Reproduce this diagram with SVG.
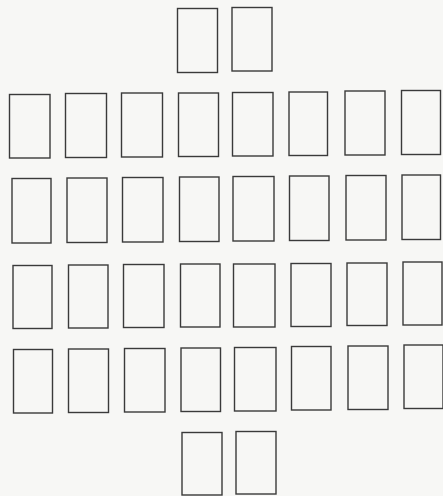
<svg xmlns="http://www.w3.org/2000/svg" width="443" height="496" viewBox="0 0 443 496">
<style>
.c{fill:none;stroke:#3a3a3a;stroke-width:1.4}
</style>
<rect width="443" height="496" fill="#f7f7f5"/>
<g id="top">
<g id="t1"><rect class="c" x="177.5" y="8.5" width="40" height="64"/></g>
<g id="t2"><rect class="c" x="232" y="7.5" width="40" height="63.5"/></g>
</g>
<g id="row1">
<g id="r1c1"><rect class="c" x="9.5" y="94.5" width="40.5" height="63.5"/></g>
<g id="r1c2"><rect class="c" x="65.5" y="93.5" width="41" height="64"/></g>
<g id="r1c3"><rect class="c" x="121.5" y="93" width="41" height="64"/></g>
<g id="r1c4"><rect class="c" x="178.5" y="93" width="40" height="63.5"/></g>
<g id="r1c5"><rect class="c" x="232.5" y="92.5" width="40.5" height="63.5"/></g>
<g id="r1c6"><rect class="c" x="289" y="92" width="38.5" height="63.5"/></g>
<g id="r1c7"><rect class="c" x="345" y="91" width="40" height="64"/></g>
<g id="r1c8"><rect class="c" x="401.5" y="90.5" width="39" height="64"/></g>
</g>
<g id="row2">
<g id="r2c1"><rect class="c" x="12" y="178.5" width="39" height="64.5"/></g>
<g id="r2c2"><rect class="c" x="67" y="178" width="40" height="64.5"/></g>
<g id="r2c3"><rect class="c" x="122.5" y="177.5" width="40.5" height="64.5"/></g>
<g id="r2c4"><rect class="c" x="179.5" y="177" width="39.5" height="64.5"/></g>
<g id="r2c5"><rect class="c" x="233" y="176.5" width="41" height="64.5"/></g>
<g id="r2c6"><rect class="c" x="289.5" y="176" width="39.5" height="64.5"/></g>
<g id="r2c7"><rect class="c" x="346" y="175.5" width="40" height="64.5"/></g>
<g id="r2c8"><rect class="c" x="402" y="175" width="38.5" height="64.5"/></g>
</g>
<g id="row3">
<g id="r3c1"><rect class="c" x="13" y="265.5" width="39" height="63"/></g>
<g id="r3c2"><rect class="c" x="68.5" y="265" width="39.5" height="63"/></g>
<g id="r3c3"><rect class="c" x="123.5" y="264.5" width="40.5" height="63"/></g>
<g id="r3c4"><rect class="c" x="180.5" y="264" width="39.5" height="63"/></g>
<g id="r3c5"><rect class="c" x="233.5" y="264" width="41.5" height="63"/></g>
<g id="r3c6"><rect class="c" x="291" y="263.5" width="40" height="63"/></g>
<g id="r3c7"><rect class="c" x="347" y="263" width="40" height="62.5"/></g>
<g id="r3c8"><rect class="c" x="403" y="262" width="39" height="63"/></g>
</g>
<g id="row4">
<g id="r4c1"><rect class="c" x="13.5" y="349.5" width="39" height="63.5"/></g>
<g id="r4c2"><rect class="c" x="68.5" y="349" width="40" height="63.5"/></g>
<g id="r4c3"><rect class="c" x="124.5" y="348.5" width="40.5" height="63.5"/></g>
<g id="r4c4"><rect class="c" x="181" y="348" width="39.5" height="63.5"/></g>
<g id="r4c5"><rect class="c" x="234.5" y="347.5" width="41.5" height="63.5"/></g>
<g id="r4c6"><rect class="c" x="291.5" y="346.5" width="39.5" height="63.5"/></g>
<g id="r4c7"><rect class="c" x="348" y="346" width="40" height="63.5"/></g>
<g id="r4c8"><rect class="c" x="404" y="345" width="39" height="63.5"/></g>
</g>
<g id="bottom">
<g id="b1"><rect class="c" x="182" y="432.5" width="40" height="62.5"/></g>
<g id="b2"><rect class="c" x="236" y="431.5" width="40" height="62.5"/></g>
</g>
<g id="connectors"></g>
</svg>
